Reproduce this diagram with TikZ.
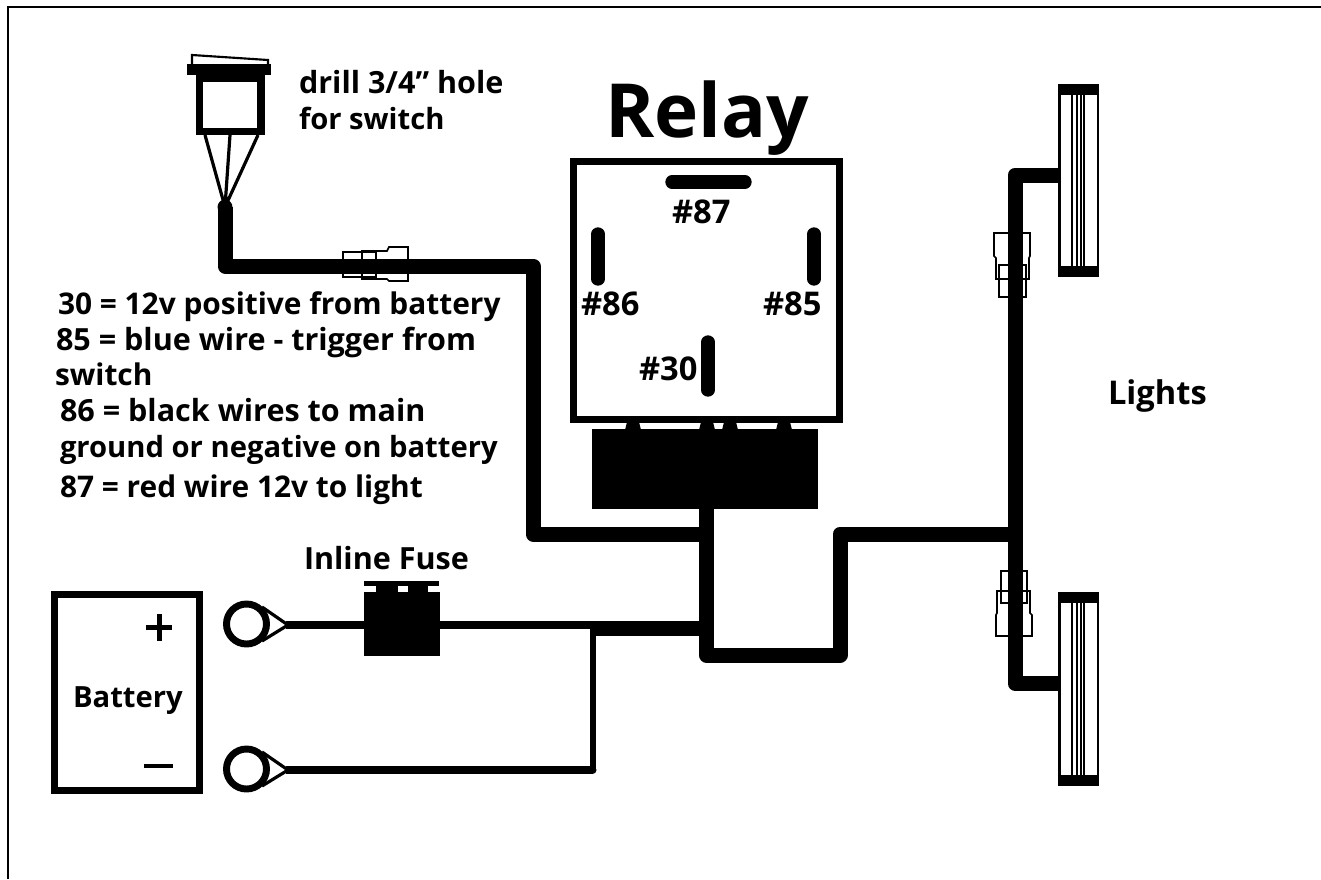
\documentclass[tikz,border=0pt]{standalone}
\usepackage{fontspec}
\setmainfont{Open Sans}[BoldFont={Open Sans Bold}]
\newcommand{\lbfs}{\fontsize{22.4}{26}\selectfont\bfseries}
\tikzset{
 wire/.style={line width=11.25pt,line cap=butt,line join=round},
 thinwire/.style={line width=6pt},
 contact/.style={line width=10pt,line cap=round},
 lbl/.style={anchor=base west,inner sep=0pt,outer sep=0pt,font=\lbfs},
 lblsm/.style={anchor=base west,inner sep=0pt,outer sep=0pt,font=\fontsize{21.9}{26}\selectfont\bfseries},
 lblbig/.style={anchor=base west,inner sep=0pt,outer sep=0pt,font=\fontsize{22.9}{26}\selectfont\bfseries},
 pinlbl/.style={anchor=base west,inner sep=0pt,outer sep=0pt,font=\fontsize{24.5}{26}\selectfont\bfseries},
 solid box/.style={fill=black,draw=none},
 conn/.style={draw=black,fill=none,line width=1.3pt,line join=miter},
}
\begin{document}
\begin{tikzpicture}[x=0.75pt,y=-0.75pt]
\useasboundingbox (0,0) rectangle (1321,879);
\fill[white] (0,0) rectangle (1321,879);
% frame
\coordinate (fbl) at (8,879); \coordinate (ftl) at (8,7); \coordinate (ftr) at (1321,7);
\draw[line width=1.5pt] (fbl) -- (ftl) -- (ftr);
% switch
\coordinate (sw1) at (205,135); \coordinate (sw2) at (230,135); \coordinate (sw3) at (258,135);
\coordinate (swj) at (225,207); \coordinate (c1) at (225,266); \coordinate (c2) at (533,266);
\coordinate (c3) at (533,534);
\draw[line width=2.4pt] (sw1) -- (swj) (sw2) -- (swj) (sw3) -- (swj);
\draw[line width=1.6pt] (192,65) -- (192,55) -- (268,60) -- (268,65);
\fill (187,64) rectangle (271,75);
\draw[line width=5.5pt,fill=white,line join=miter] (199.5,78.5) rectangle (261,131.5);
% relay
\draw[line width=5.25pt] (573.5,161.5) rectangle (839,419);
\foreach \x in {633,707,730,784}{\fill (\x-6,422) -- (\x+6,422) -- (\x+8,430) -- (\x-8,430) -- cycle;}
\node (block) [solid box,minimum width=170pt,minimum height=60pt,inner sep=0pt] at (705,469) {};
\draw[contact] (672,182) -- (745,182);
\draw[contact] (598,234) -- (598,279);
\draw[contact] (814,234) -- (814,279);
\draw[contact] (708,342) -- (708,390);
% wires
\coordinate (w1) at (706.5,509); \coordinate (w2) at (706.5,655); \coordinate (w3) at (840,655);
\coordinate (w4) at (840,534); \coordinate (w5) at (1015,534);
\coordinate (j1) at (706.5,534);
\coordinate (t1) at (1015,175); \coordinate (t2) at (1058,175);
\coordinate (b1) at (1015,683.5); \coordinate (b2) at (1058,683.5);
\fill (swj) circle (5.6pt);
\draw[wire] (swj) -- (c1) -- (c2) -- (c3) -- (j1);
\draw[wire] (block.south -| w1) -- (w2) -- (w3) -- (w4) -- (w5);
\draw[wire] (t2) -- (t1) -- (b1) -- (b2);
% switch-wire connector
\draw[conn] (343,252) rectangle (376,277);
\draw[conn] (362,251) -- (387,251) -- (389,247) -- (408,247) -- (408,281) -- (389,281) -- (387,279) -- (362,279) -- cycle;
% light connectors
\draw[conn] (994,233) -- (1030,233) -- (1030,256) -- (1029,258) -- (1029,279) -- (996,279) -- (996,258) -- (994,256) -- cycle;
\draw[conn] (999,265) rectangle (1026,297);
\draw[conn] (1001,571) rectangle (1027,603);
\draw[conn] (997,591) -- (1030,591) -- (1030,613) -- (1032,615) -- (1032,636) -- (996,636) -- (996,615) -- (997,613) -- cycle;
% lights
\foreach \ya/\yb in {84/277,592/786}{
 \draw[line width=2.2pt] (1059.5,\ya) -- (1059.5,\yb);
 \draw[line width=1.5pt] (1098,\ya) -- (1098,\yb);
 \fill (1058,\ya) rectangle (1099,\ya+11);
 \fill (1058,\yb-11) rectangle (1099,\yb);
 \foreach \x in {1072,1077,1081,1084}{\draw[line width=1.2pt] (\x,\ya) -- (\x,\yb);}
}
% battery
\draw[line width=5.25pt] (54.5,594.5) rectangle (199.5,790);
\draw[line width=3.75pt] (146,627) -- (172,627) (159,614) -- (159,641);
\draw[line width=3pt] (144,766) -- (173,766);
% terminals
\foreach \cy/\ty in {624/625,769/770}{
 \draw[line width=5.2pt] (246.5,\cy) circle (20*0.75pt);
 \draw[line width=2.4pt] (262,\cy-17) -- (288,\ty) -- (262,\cy+17);
}
\coordinate (rt1) at (286,625); \coordinate (rt2) at (286,770);
\coordinate (f1) at (364,625); \coordinate (f2) at (440,625);
\coordinate (j2) at (592.5,625); \coordinate (j3) at (592.5,770);
\draw[thinwire] (rt1) -- (f1) (f2) -- (j2);
\draw[thinwire] (rt2) -- (j3);
\draw[line width=4.5pt] (j2) -- (j3);
\fill (j3) circle (3pt);
\draw[wire] (592,628.5) -- (706.5,628.5);
% fuse
\fill (364,592) rectangle (440,656);
\fill (364,581) rectangle (439,586);
\fill (376,585) rectangle (398,593);
\fill (408,585) rectangle (428,593);
% text
\node[anchor=base west,inner sep=0pt,font=\fontsize{56}{60}\selectfont\bfseries] (trelay) at (605,137) {Relay};
\node[lblbig] (t3) at (299,93) {drill 3/4” hole};
\node[lblsm] (t4) at (299,129) {for switch};
\node[lbl] (n1) at (58,314) {30 = 12v positive from battery};
\node[lblbig] (n2) at (56,350) {85 = blue wire - trigger from};
\node[lbl] (n3) at (55,385) {switch};
\node[lblbig] (n4) at (60,421) {86 = black wires to main};
\node[lblsm] (n5) at (60,457) {ground or negative on battery};
\node[lbl] (n6) at (60,497) {87 = red wire 12v to light};
\node[lblbig] (tf) at (304,569) {Inline Fuse};
\node[pinlbl] (tl) at (1108,404) {Lights};
\node[lblsm] (tb) at (73,707) {Battery};
\node[pinlbl] (l87) at (672,223) {\#87};
\node[pinlbl] (l86) at (581,315) {\#86};
\node[pinlbl] (l85) at (763,315) {\#85};
\node[pinlbl] (l30) at (639,380) {\#30};
\end{tikzpicture}
\end{document}
